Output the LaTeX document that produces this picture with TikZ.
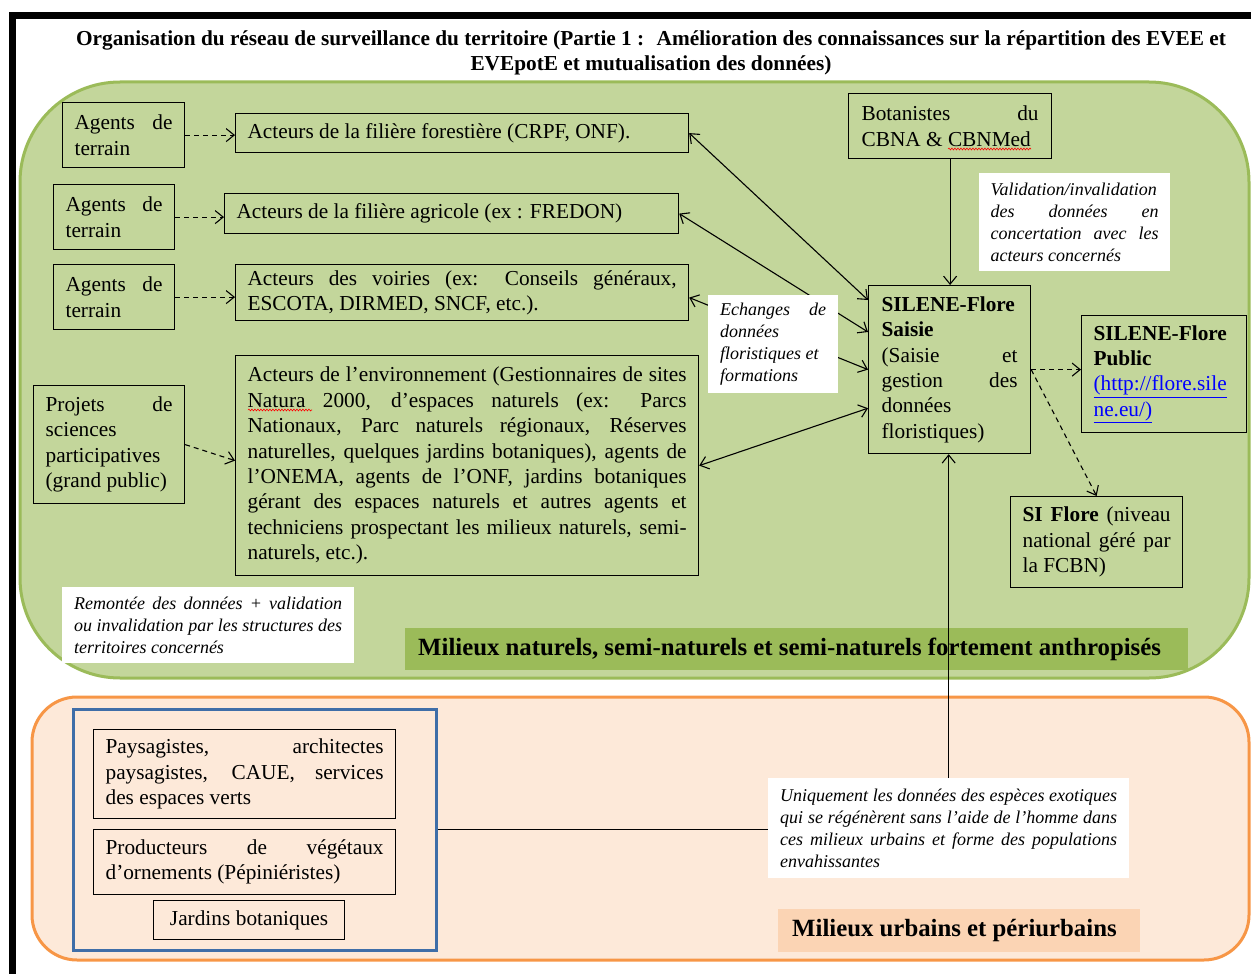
\documentclass[tikz,border=0pt]{standalone}
\usepackage{fontspec}
\setmainfont{Liberation Serif}
\usetikzlibrary{arrows.meta,decorations.pathmorphing}
\definecolor{gfill}{HTML}{C3D69B}
\definecolor{gline}{HTML}{9BBB59}
\definecolor{glab}{HTML}{9BBB59}
\definecolor{ofill}{HTML}{FDE9D9}
\definecolor{oline}{HTML}{F79646}
\definecolor{olab}{HTML}{FBD4B4}
\definecolor{bline}{HTML}{3F6EA8}
\definecolor{linkblue}{HTML}{0000FF}
\newcommand\bodyfont{\fontsize{21.3}{25.4}\selectfont\parindent0pt}
\newcommand\itfont{\fontsize{18}{22}\selectfont\itshape\parindent0pt}
\newcommand\J[1]{\makebox[\hsize][s]{\spaceskip=0pt\xspaceskip=0pt #1}}
\begin{document}
\begin{tikzpicture}[x=1pt,y=-1pt,
  every node/.style={execute at begin node={\spaceskip=0pt\xspaceskip=0pt}},
  box/.style={draw, line width=1.2pt, anchor=north west, inner xsep=12pt, inner ysep=0pt, align=left, font=\bodyfont},
  wbox/.style={fill=white, anchor=north west, inner xsep=12pt, inner ysep=0pt, align=left, font=\itfont},
  lab/.style={anchor=north west, inner xsep=13pt, inner ysep=0pt, align=left, font=\fontsize{24.8}{28}\selectfont\bfseries},
  conn/.style={line width=1.1pt, -{Straight Barb[length=8pt,width=13pt]}},
  conntwo/.style={line width=1.1pt, {Straight Barb[length=8pt,width=13pt]}-{Straight Barb[length=8pt,width=13pt]}},
  dconn/.style={conn, dash pattern=on 5pt off 4pt},
  squiggle/.style={red, line width=0.6pt, decorate, decoration={snake, segment length=3pt, amplitude=0.9pt}}
]
\useasboundingbox (0,0) rectangle (1251,974);
% frame
\draw[line width=7pt] (12.5,990) -- (12.5,16) -- (1270,16);
% title
\node[align=center, font=\fontsize{21.3}{25}\selectfont\bfseries] (title) at (651,53)
  {Organisation du réseau de surveillance du territoire (Partie 1 :~ Amélioration des connaissances sur la répartition des EVEE et\\EVEpotE et mutualisation des données)};
% regions
\draw[fill=gfill, draw=gline, line width=3pt, rounded corners=100pt] (20,82) rectangle (1249,678);
\draw[fill=ofill, draw=oline, line width=3pt, rounded corners=45pt] (32,697) rectangle (1249,960);
% labels
\node[lab, fill=glab, minimum width=783pt, minimum height=42pt, text width=757pt] (glabel) at (405,628)
  {Milieux naturels, semi-naturels et semi-naturels fortement anthropisés};
\node[lab, fill=olab, minimum width=362pt, minimum height=43pt, text width=334pt, inner xsep=14pt] (ulabel) at (778,909)
  {Milieux urbains et périurbains};
% green region boxes
\node[box, minimum width=122pt, minimum height=65pt, text width=98pt] (ag1) at (62,102) {\J{Agents de}\\terrain};
\node[box, minimum width=453pt, minimum height=39pt, text width=429pt] (forest) at (235,113) {Acteurs de la filière forestière (CRPF, ONF).};
\node[box, minimum width=121pt, minimum height=65pt, text width=97pt] (ag2) at (53,184) {\J{Agents de}\\terrain};
\node[box, minimum width=454pt, minimum height=40pt, text width=430pt] (agri) at (224,193) {Acteurs de la filière agricole (ex : FREDON)};
\node[box, minimum width=121pt, minimum height=65pt, text width=97pt] (ag3) at (53,264) {\J{Agents de}\\terrain};
\node[box, minimum width=453pt, minimum height=56pt, text width=429pt] (voir) at (235,264)
  {\J{Acteurs des voiries (ex: Conseils généraux,}\\ESCOTA, DIRMED, SNCF, etc.).};
\node[box, minimum width=463pt, minimum height=220pt, text width=439pt] (env) at (235,355)
  {\J{Acteurs de l’environnement (Gestionnaires de sites}\\
   \J{Natura 2000, d’espaces naturels (ex: Parcs}\\
   \J{Nationaux, Parc naturels régionaux, Réserves}\\
   \J{naturelles, quelques jardins botaniques), agents de}\\
   \J{l’ONEMA, agents de l’ONF, jardins botaniques}\\
   \J{gérant des espaces naturels et autres agents et}\\
   \J{techniciens prospectant les milieux naturels, semi-}\\
   naturels, etc.).};
\node[box, minimum width=151pt, minimum height=118pt, text width=127pt] (proj) at (33,385)
  {\J{Projets de}\\sciences\\participatives\\(grand public)};
\node[box, minimum width=203pt, minimum height=65pt, text width=177pt, inner xsep=13pt] (bot) at (848,93)
  {\J{Botanistes du}\\CBNA \& CBNMed};
\node[box, minimum width=162pt, minimum height=168pt, text width=136pt, inner xsep=13pt] (sil) at (868,285)
  {\textbf{SILENE-Flore}\\\textbf{Saisie}\\\J{(Saisie et}\\\J{gestion des}\\données\\floristiques)};
\node[box, minimum width=165pt, minimum height=117pt, text width=141pt] (pub) at (1081,315)
  {\textbf{SILENE-Flore}\\\textbf{Public}\\\textcolor{linkblue}{\underline{(http://flore.sile}}\\\textcolor{linkblue}{\underline{ne.eu/)}}};
\node[box, minimum width=172pt, minimum height=91pt, text width=148pt] (sif) at (1010,496)
  {\J{\textbf{SI Flore} (niveau}\\\J{national géré par}\\la FCBN)};
\node[wbox, minimum width=191pt, minimum height=98pt, text width=168pt, inner xsep=11pt] (val) at (979,173)
  {Validation/invalidation\\\J{des données en}\\\J{concertation avec les}\\acteurs concernés};
\node[wbox, minimum width=292pt, minimum height=76pt, text width=268pt] (rem) at (62,587)
  {\J{Remontée des données + validation}\\\J{ou invalidation par les structures des}\\territoires concernés};
% spell-check marks
\draw[squiggle] (948,149) -- (1031,149);
\draw[squiggle] (248,410) -- (312,410);
% orange region boxes
\node[draw=bline, line width=2.5pt, anchor=north west, minimum width=363pt, minimum height=241pt, inner sep=0pt] (blue) at (72,708) {};
\node[box, minimum width=302pt, minimum height=89pt, text width=278pt] (pay) at (93,729)
  {\J{Paysagistes, architectes}\\\J{paysagistes, CAUE, services}\\des espaces verts};
\node[box, minimum width=302pt, minimum height=65pt, text width=278pt] (prod) at (93,829)
  {\J{Producteurs de végétaux}\\d’ornements (Pépiniéristes)};
\node[box, minimum width=191pt, minimum height=39pt, text width=167pt, align=center] (jard) at (153,900)
  {Jardins botaniques};
\node[wbox, minimum width=361pt, minimum height=100pt, text width=337pt] (uniq) at (768,778)
  {\J{Uniquement les données des espèces exotiques}\\\J{qui se régénèrent sans l’aide de l’homme dans}\\\J{ces milieux urbains et forme des populations}\\envahissantes};
% connectors
\draw[dconn] (ag1.east) -- (ag1.east -| forest.west);
\draw[dconn] (ag2.east) -- (ag2.east -| agri.west);
\draw[dconn] (ag3.east) -- (ag3.east -| voir.west);
\draw[dconn] (proj.east) -- ([yshift=5pt]env.west);
\draw[conntwo] (forest.east) -- ([yshift=-15pt]sil.north west);
\draw[conntwo] (agri.east) -- ([yshift=-47pt]sil.north west);
\draw[conntwo] ([yshift=-5pt]voir.east) -- (sil.west);
\draw[conntwo] (env.east) -- ([yshift=46pt]sil.south west);
\draw[conn] (bot.south) -- (bot.south |- sil.north);
\draw[conn] (uniq.north) -- (uniq.north |- sil.south);
\draw[line width=1.1pt] (blue.east) -- (blue.east -| uniq.west);
\draw[dconn] (sil.east) -- (sil.east -| pub.west);
\draw[dconn] (sil.east) -- (sif.north);
% white box over the connectors
\node[wbox, minimum width=130pt, minimum height=98pt, text width=106pt] (ech) at (708,295)
  {\J{Echanges de}\\données\\floristiques et\\formations};
\end{tikzpicture}
\end{document}
